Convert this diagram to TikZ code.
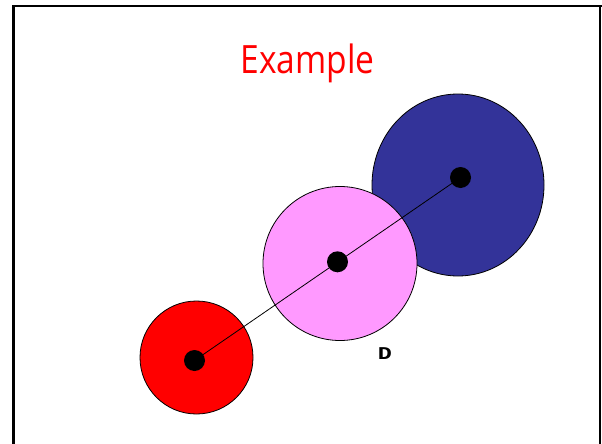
\documentclass[tikz,border=0pt]{standalone}
\usepackage{fontspec}
\setmainfont{Open Sans}
\newfontfamily\courb[BoldFont={Liberation Mono Bold}]{Liberation Mono}
\usetikzlibrary{shapes.geometric}
\definecolor{discred}{HTML}{FF0000}
\definecolor{discpink}{HTML}{FF99FF}
\definecolor{discblue}{HTML}{333399}
\tikzset{
  disc/.style={draw=black, line width=0.8pt, inner sep=0pt},
  dot/.style={circle, fill=black, inner sep=0pt, minimum size=21pt},
  frameline/.style={draw=black, line cap=butt}
}
\begin{document}
\begin{tikzpicture}[x=1pt,y=-1pt]
\useasboundingbox (0,0) rectangle (602,444);
\fill[white] (0,0) rectangle (602,444);
% frame
\draw[frameline, line width=3pt] (13.5,444) -- (13.5,5);
\draw[frameline, line width=2pt] (12,6) -- (602,6);
\draw[frameline, line width=1.6pt] (600.2,6) -- (600.2,444);
% title
\node[text=discred, font=\fontsize{39}{44}\selectfont, xscale=0.86, anchor=base] (title) at (307.5,74) {Example};
% discs
\node[disc, ellipse, fill=discblue, minimum width=172pt, minimum height=182pt] (blue) at (458,185) {};
\node[disc, circle, fill=discpink, minimum size=154pt] (pink) at (340,263.5) {};
\node[disc, circle, fill=discred, minimum size=113pt] (red) at (196.5,357.5) {};
% dots
\node[dot] (rd) at (194.5,360.5) {};
\node[dot] (pd) at (337.5,261.8) {};
\node[dot] (bd) at (460.5,177.5) {};
\draw[line width=0.8pt] (rd.center) -- (bd.center);
% label
\node[font=\courb\bfseries\fontsize{18}{20}\selectfont, anchor=base, inner sep=0pt, xscale=1.3] (dlabel) at (385,359.5) {D};
\end{tikzpicture}
\end{document}
